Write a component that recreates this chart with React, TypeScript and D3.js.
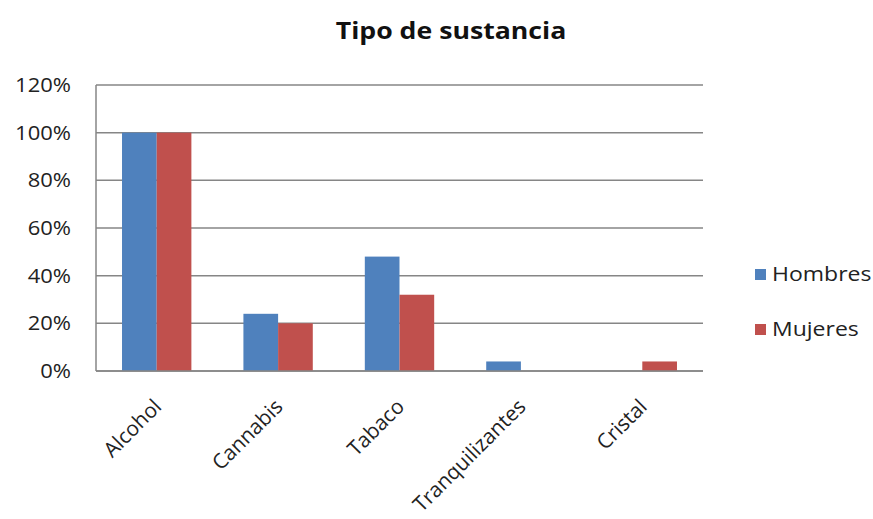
import React from "react";
import * as d3 from "d3";

const categories = ["Alcohol", "Cannabis", "Tabaco", "Tranquilizantes", "Cristal"];
const seriesNames = ["Hombres", "Mujeres"];
const hombres = [100, 24, 48, 4, 0];
const mujeres = [100, 20, 32, 0, 4];
const yTicks = [0, 20, 40, 60, 80, 100, 120];
const colors = ["#4F81BD", "#C0504D"];

const W = 873;
const H = 519;
const left = 96;
const right = 703;
const top = 85;
const bottom = 371;
const FONT = "'Open Sans', 'Noto Sans', sans-serif";

export default function App() {
  const x = d3.scaleBand<string>().domain(categories).range([left, right]).paddingInner(0).paddingOuter(0);
  const step = x.bandwidth();
  const barW = step / 3.5;
  const y = d3.scaleLinear().domain([0, 120]).range([bottom, top]);
  const series = [hombres, mujeres];

  return (
    <svg width={W} height={H} style={{ position: "absolute", left: 0, top: 0, background: "#fff" }}>
      <text
        transform="translate(451,39) scale(1.16,1)"
        textAnchor="middle"
        fontFamily={FONT}
        fontWeight="bold"
        fontSize={23}
        fill="#111"
      >
        Tipo de sustancia
      </text>
      {yTicks.map((t) => (
        <g key={t}>
          <line x1={left} x2={right} y1={y(t)} y2={y(t)} stroke="#868686" strokeWidth={1.5} />
          <text
            transform={`translate(71,${y(t)}) scale(1.1,1)`}
            dy="0.35em"
            textAnchor="end"
            fontFamily={FONT}
            fontSize={20}
            fill="#222"
          >
            {t}%
          </text>
        </g>
      ))}
      <line x1={left} x2={left} y1={top} y2={bottom} stroke="#868686" strokeWidth={1.5} />
      {series.map((vals, si) =>
        categories.map((c, ci) => {
          const cx = (x(c) as number) + step / 2;
          const bx = cx - barW + si * barW;
          return vals[ci] > 0 ? (
            <rect key={c + si} x={bx} y={y(vals[ci])} width={barW} height={y(0) - y(vals[ci])} fill={colors[si]} />
          ) : null;
        })
      )}
      <line x1={left} x2={right} y1={bottom} y2={bottom} stroke="#868686" strokeWidth={1.5} />
      {categories.map((c) => {
        const cx = (x(c) as number) + step / 2;
        return (
          <text
            key={c}
            transform={`translate(${cx + 6},${bottom + 37}) rotate(-45)`}
            textAnchor="end"
            fontFamily={FONT}
            fontSize={20.8}
            fill="#222"
          >
            {c}
          </text>
        );
      })}
      {seriesNames.map((s, i) => (
        <g key={s} transform={`translate(755,${274 + i * 55})`}>
          <rect x={0} y={-5} width={11} height={11} fill={colors[i]} />
          <text transform="translate(17,0) scale(1.15,1)" dy="0.35em" fontFamily={FONT} fontSize={20} fill="#222">
            {s}
          </text>
        </g>
      ))}
    </svg>
  );
}
